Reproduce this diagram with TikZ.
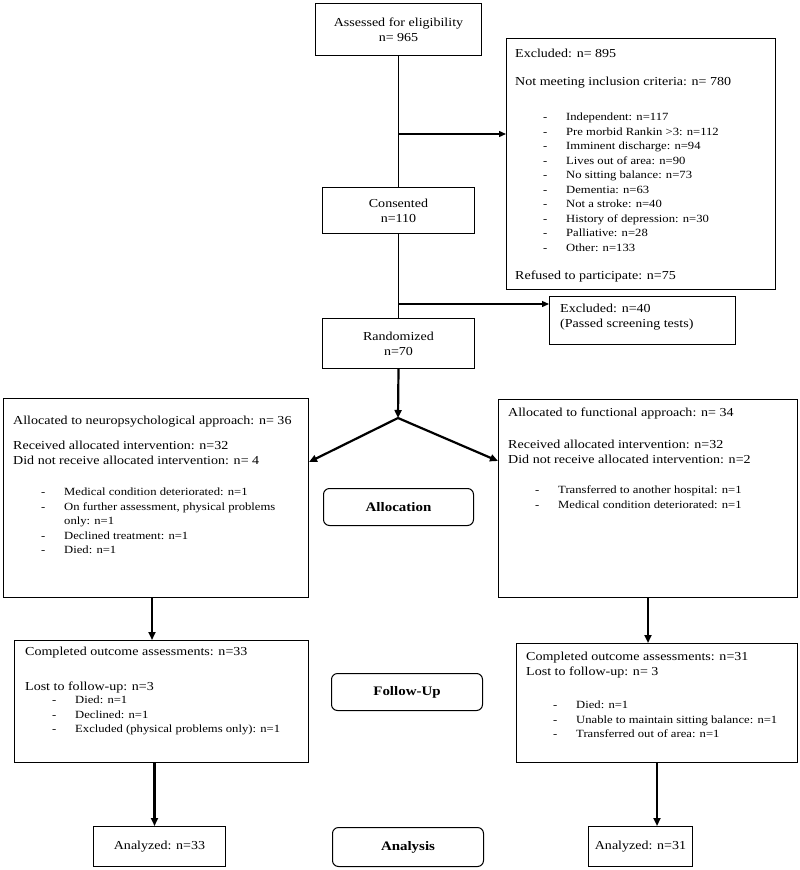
\documentclass[tikz,border=0pt]{standalone}
\usepackage{fontspec}
\setmainfont{Liberation Serif}[FakeStretch=1.15]
\usetikzlibrary{arrows.meta}
\newcommand\mainf{\fontsize{12.2}{15}\selectfont}
\newcommand\lstf{\fontsize{11}{14.5}\selectfont}
\newcommand\dsh{\makebox[23pt][l]{-}}
\begin{document}
\begin{tikzpicture}[x=1pt,y=-1pt,
  box/.style={draw, line width=1pt, inner sep=0pt, anchor=north west, font=\mainf, align=center},
  rbox/.style={draw, line width=1pt, rounded corners=6pt, inner sep=0pt, anchor=north west, font=\bfseries\fontsize{13}{15}\selectfont},
  txt/.style={inner sep=0pt, anchor=west, align=left, font=\mainf},
  lst/.style={inner sep=0pt, anchor=north west, align=left, font=\lstf},
  ln/.style={line width=1.3pt},
  arr/.style={line width=1.3pt, -{Triangle[length=7pt,width=6pt]}},
  tarr/.style={line width=2.2pt, -{Triangle[length=8pt,width=7pt]}}
]
\useasboundingbox (0,0) rectangle (800,870);

% boxes
\node[box, minimum width=166pt, minimum height=52pt] (assess) at (315,3) {Assessed for eligibility\\n= 965};
\node[box, minimum width=269pt, minimum height=251pt] (excl) at (506,38) {};
\node[box, minimum width=152pt, minimum height=46pt] (cons) at (322,187) {Consented\\n=110};
\node[box, minimum width=186pt, minimum height=48pt] (excl40) at (549,296) {};
\node[box, minimum width=152pt, minimum height=50pt] (rand) at (322,318) {Randomized\\n=70};
\node[box, minimum width=305pt, minimum height=199pt] (allocL) at (3,398) {};
\node[box, minimum width=299pt, minimum height=198pt] (allocR) at (498,399) {};
\node[rbox, minimum width=150pt, minimum height=37pt] (allocLab) at (323,488) {Allocation};
\node[box, minimum width=294pt, minimum height=122pt] (fuL) at (14,640) {};
\node[box, minimum width=281pt, minimum height=119pt] (fuR) at (516,643) {};
\node[rbox, minimum width=151pt, minimum height=37pt] (fuLab) at (331,673) {Follow-Up};
\node[box, minimum width=132pt, minimum height=40pt] (anL) at (93,826) {Analyzed: n=33};
\node[box, minimum width=104pt, minimum height=40pt] (anR) at (588,826) {Analyzed: n=31};
\node[rbox, minimum width=151pt, minimum height=39pt] (anLab) at (332,827) {Analysis};

% excluded box text
\node[txt] (exA) at (515,53) {Excluded: n= 895};
\node[txt] (exB) at (515,83) {Not meeting inclusion criteria: n= 780};
\node[lst] (exL) at (543,113) {\dsh Independent: n=117\\
\dsh Pre morbid Rankin >3: n=112\\
\dsh Imminent discharge: n=94\\
\dsh Lives out of area: n=90\\
\dsh No sitting balance: n=73\\
\dsh Dementia: n=63\\
\dsh Not a stroke: n=40\\
\dsh History of depression: n=30\\
\dsh Palliative: n=28\\
\dsh Other: n=133};
\node[txt] (exC) at (515,277) {Refused to participate: n=75};

\node[txt] (ex40) at (560,317.5) {Excluded: n=40\\(Passed screening tests)};

% allocation left
\node[txt] (aL1) at (13,422) {Allocated to neuropsychological approach: n= 36};
\node[txt] (aL2) at (13,452.5) {Received allocated intervention: n=32\\Did not receive allocated intervention: n= 4};
\node[lst] (aLl) at (41,488) {\dsh Medical condition deteriorated: n=1\\
\dsh On further assessment, physical problems\\
\hspace*{23pt}only: n=1\\
\dsh Declined treatment: n=1\\
\dsh Died: n=1};

% allocation right
\node[txt] (aR1) at (508,413) {Allocated to functional approach: n= 34};
\node[txt] (aR2) at (508,452) {Received allocated intervention: n=32\\Did not receive allocated intervention: n=2};
\node[lst] (aRl) at (535,486) {\dsh Transferred to another hospital: n=1\\
\dsh Medical condition deteriorated: n=1};

% follow-up left
\node[txt] (fL1) at (25,653) {Completed outcome assessments: n=33};
\node[txt] (fL2) at (25,687) {Lost to follow-up: n=3};
\node[lst] (fLl) at (52,696) {\dsh Died: n=1\\
\dsh Declined: n=1\\
\dsh Excluded (physical problems only): n=1};

% follow-up right
\node[txt] (fR1) at (526,665) {Completed outcome assessments: n=31\\Lost to follow-up: n= 3};
\node[lst] (fRl) at (553,701) {\dsh Died: n=1\\
\dsh Unable to maintain sitting balance: n=1\\
\dsh Transferred out of area: n=1};

% connectors
\coordinate (j1) at (398,134);
\coordinate (j2) at (398,304);
\coordinate (split) at (398,418);
\draw[ln] (assess.south) -- (cons.north);
\draw[arr] (j1) -- (j1 -| excl.west);
\draw[ln] (cons.south) -- (rand.north);
\draw[arr] (j2) -- (j2 -| excl40.west);
\draw[tarr] (rand.south) -- (split);
\draw[tarr] (split) -- ([yshift=-64pt]allocL.north east);
\draw[tarr] (split) -- ([yshift=-62pt]allocR.north west);
\draw[tarr] ([xshift=-4pt]allocL.south) -- ([xshift=-4pt]allocL.south |- fuL.north);
\draw[tarr] (allocR.south) -- (allocR.south |- fuR.north);
\draw[tarr] ([xshift=-7pt]fuL.south) -- ([xshift=-7pt]fuL.south |- anL.north);
\draw[tarr] (fuR.south) -- (fuR.south |- anR.north);
\end{tikzpicture}
\end{document}
